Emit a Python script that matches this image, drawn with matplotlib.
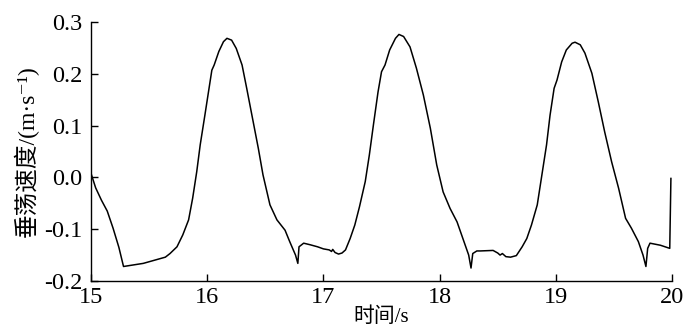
import matplotlib.pyplot as plt

plt.rcParams['font.family'] = ['Liberation Serif', 'Noto Sans CJK SC', 'DejaVu Serif']
plt.rcParams['axes.unicode_minus'] = False

# time (s) and heave velocity (m/s)
t = [15.00, 15.04, 15.09, 15.14, 15.19, 15.24, 15.28, 15.45, 15.64, 15.68,
     15.74, 15.79, 15.84, 15.875, 15.91, 15.94, 15.98, 16.02, 16.04, 16.06,
     16.10, 16.14, 16.17, 16.21, 16.25, 16.30, 16.34, 16.39, 16.44, 16.48,
     16.54, 16.60, 16.67, 16.71, 16.76, 16.78, 16.79, 16.83, 16.885, 16.95,
     17.00, 17.05, 17.07, 17.08, 17.10, 17.13, 17.16, 17.19, 17.23, 17.27,
     17.31, 17.36, 17.395, 17.43, 17.47, 17.50, 17.53, 17.57, 17.62, 17.65,
     17.69, 17.745, 17.80, 17.86, 17.92, 17.975, 18.03, 18.09, 18.15, 18.20,
     18.25, 18.27, 18.285, 18.32, 18.35, 18.46, 18.50, 18.52, 18.54, 18.57,
     18.61, 18.66, 18.71, 18.75, 18.79, 18.84, 18.88, 18.92, 18.95, 18.985,
     19.01, 19.05, 19.09, 19.14, 19.165, 19.21, 19.25, 19.31, 19.365, 19.42,
     19.48, 19.54, 19.60, 19.65, 19.71, 19.75, 19.775, 19.79, 19.81, 19.90,
     19.98, 19.99]
v = [0.008, -0.020, -0.044, -0.065, -0.098, -0.135, -0.172, -0.166, -0.154, -0.147,
     -0.134, -0.111, -0.082, -0.040, 0.011, 0.063, 0.120, 0.178, 0.207, 0.217,
     0.243, 0.262, 0.2685, 0.265, 0.249, 0.217, 0.172, 0.114, 0.056, 0.005,
     -0.053, -0.082, -0.102, -0.124, -0.150, -0.166, -0.134, -0.127, -0.130, -0.134,
     -0.138, -0.140, -0.143, -0.139, -0.145, -0.148, -0.146, -0.140, -0.118, -0.092,
     -0.057, -0.008, 0.043, 0.101, 0.165, 0.204, 0.217, 0.246, 0.2685, 0.276,
     0.272, 0.252, 0.211, 0.159, 0.095, 0.024, -0.028, -0.060, -0.086, -0.118,
     -0.150, -0.175, -0.147, -0.142, -0.142, -0.141, -0.146, -0.150, -0.147, -0.153,
     -0.154, -0.151, -0.134, -0.118, -0.092, -0.053, 0.005, 0.063, 0.120, 0.172,
     0.188, 0.223, 0.246, 0.259, 0.261, 0.256, 0.240, 0.201, 0.146, 0.088,
     0.030, -0.021, -0.079, -0.098, -0.124, -0.150, -0.172, -0.137, -0.127, -0.131,
     -0.137, -0.002]

xticks = [15, 16, 17, 18, 19, 20]
yticks = [-0.2, -0.1, 0.0, 0.1, 0.2, 0.3]
yticklabels = ['-0.2', '-0.1', '0.0', '0.1', '0.2', '0.3']

fig = plt.figure(figsize=(6.83, 3.27), dpi=100)
ax = fig.add_axes([0.1332, 0.1407, 0.8508, 0.792])
ax.plot(t, v, color='black', lw=1.1)

ax.set_xlim(15, 20)
ax.set_ylim(-0.2, 0.3)
ax.set_xticks(xticks)
ax.set_yticks(yticks)
ax.set_yticklabels(yticklabels)
ax.tick_params(direction='in', length=5, width=1, labelsize=17.5)
ax.tick_params(axis='y', pad=6)
ax.tick_params(axis='x', pad=4)
for s in ['top', 'right']:
    ax.spines[s].set_visible(False)
for s in ['left', 'bottom']:
    ax.spines[s].set_linewidth(1)

ax.set_xlabel('时间/s', fontsize=15, labelpad=0)
ax.set_ylabel('垂荡速度/(m·s⁻¹)', fontsize=17, labelpad=4)

fig.savefig('out.png', dpi=100)
